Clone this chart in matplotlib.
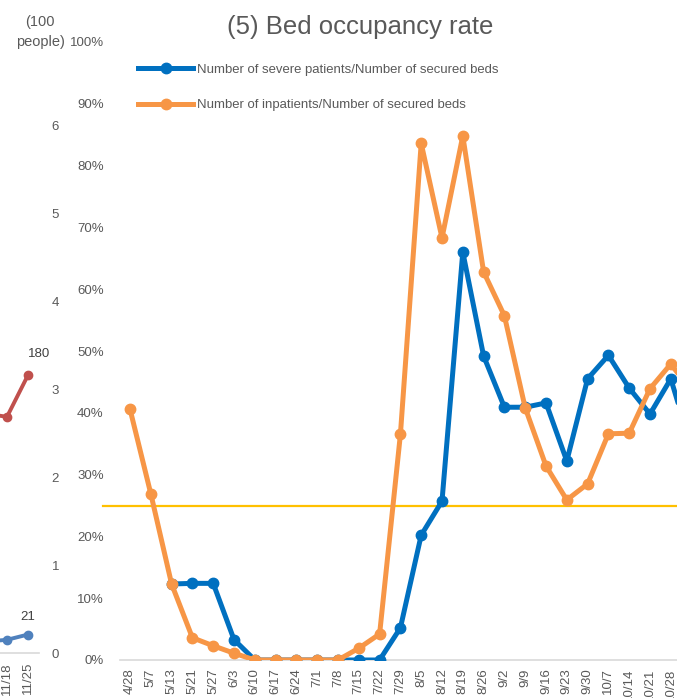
import numpy as np
import matplotlib
matplotlib.use("Agg")
import matplotlib.pyplot as plt
from matplotlib.ticker import PercentFormatter
from matplotlib.lines import Line2D

plt.rcParams["font.family"] = ["Liberation Sans", "DejaVu Sans"]

TXT = "#595959"
BLUE = "#0070C0"
ORANGE = "#F79646"
YELLOW = "#FFC000"
AXIS_GREY = "#D9D9D9"

# bed occupancy (%), weekly
dates = ["4/28", "5/7", "5/13", "5/21", "5/27", "6/3", "6/10", "6/17", "6/24",
         "7/1", "7/8", "7/15", "7/22", "7/29", "8/5", "8/12", "8/19", "8/26",
         "9/2", "9/9", "9/16", "9/23", "9/30", "10/7", "10/14", "10/21",
         "10/28", "11/4"]
severe_rate = [np.nan, np.nan, 12.3, 12.4, 12.4, 3.3, 0, 0, 0, 0, 0, 0, 0,
               5.2, 20.2, 25.7, 66.0, 49.2, 40.9, 40.9, 41.6, 32.2, 45.5,
               49.3, 44.0, 39.8, 45.5, 34.3]
inpatient_rate = [40.6, 26.9, 12.3, 3.6, 2.3, 1.1, 0, 0, 0, 0, 0, 1.9, 4.2,
                  36.5, 83.6, 68.3, 84.8, 62.8, 55.7, 40.8, 31.4, 25.9, 28.5,
                  36.6, 36.7, 43.9, 47.9, 43.5]
threshold = 25

# tail of the neighbouring panel (patient counts)
prev_dates = ["11/11", "11/18", "11/25"]
prev_severe = [13, 15, 21]        # people
prev_inpat = [155, 153, 180]      # people

W, H = 677, 698
fig = plt.figure(figsize=(W / 100, H / 100), dpi=100, facecolor="white")


def px(x0, y0, x1, y1):
    # pixel box (left, top, right, bottom) -> figure fraction rect
    return [x0 / W, 1 - y1 / H, (x1 - x0) / W, (y1 - y0) / H]


# ---- neighbouring panel (only its right edge shows) ----
axp = fig.add_axes(px(-200, 125, 38.5, 653))
axq = axp.twinx()
axp.set_xlim(2.5 - 238.5 / 21, 2.5)
axp.set_ylim(0, 6)
xp = np.arange(len(prev_dates))
axp.plot(xp, np.array(prev_severe) / 100, color="#4F81BD", lw=2.8,
         marker="o", ms=6, zorder=3)
axp.set_xticks(xp)
axp.set_xticklabels(prev_dates, rotation=90, fontsize=9.5, color=TXT)
axp.yaxis.tick_right()
axp.set_yticks(range(0, 7))
axp.tick_params(axis="both", length=0, colors=TXT, labelsize=9.5)
axp.tick_params(axis="y", pad=9.5, labelright=True, labelleft=False)
axp.tick_params(axis="x", pad=6.5)
for s in ["top", "left", "right"]:
    axp.spines[s].set_visible(False)
axp.spines["bottom"].set_color(AXIS_GREY)
axp.spines["bottom"].set_linewidth(1.2)
axp.annotate(str(prev_severe[-1]), (xp[-1], prev_severe[-1] / 100),
             xytext=(0, 8), textcoords="offset points", ha="center",
             va="bottom", fontsize=9.5, color="#404040")

axq.set_ylim(0, 342)
axq.plot(xp, prev_inpat, color="#C0504D", lw=2.8, marker="o", ms=6, zorder=3)
axq.set_yticks([])
for s in axq.spines.values():
    s.set_visible(False)
axq.annotate(str(prev_inpat[-1]), (xp[-1], prev_inpat[-1]),
             xytext=(8, 11), textcoords="offset points", ha="center",
             va="bottom", fontsize=9.5, color="#404040")
fig.text(40 / W, 1 - 32 / H, "(100\npeople)", ha="center", va="center",
         fontsize=10.5, color=TXT, linespacing=1.6)

# ---- bed occupancy panel ----
ax = fig.add_axes(px(119.6, 42, 119.6 + 28 * 20.8, 660))
x = np.arange(len(dates))
ax.plot(x, severe_rate, color=BLUE, lw=3.6, marker="o", ms=7.5,
        solid_capstyle="round", zorder=3)
ax.plot(x, inpatient_rate, color=ORANGE, lw=3.6, marker="o", ms=7.5,
        solid_capstyle="round", zorder=4)
ax.axhline(threshold, xmin=-0.0285, xmax=1, color=YELLOW, lw=1.6,
           clip_on=False, zorder=2)

ax.set_xlim(-0.5, len(dates) - 0.5)
ax.set_ylim(0, 100)
ax.set_yticks(np.arange(0, 101, 10))
ax.yaxis.set_major_formatter(PercentFormatter(100, decimals=0))
ax.set_xticks(x)
ax.set_xticklabels(dates, rotation=90, fontsize=9.5, color=TXT)
ax.tick_params(axis="both", length=0, colors=TXT, labelsize=9.5)
ax.tick_params(axis="y", pad=11.5)
ax.tick_params(axis="x", pad=6)
for s in ["top", "left", "right"]:
    ax.spines[s].set_visible(False)
ax.spines["bottom"].set_color(AXIS_GREY)
ax.spines["bottom"].set_linewidth(1.2)
ax.patch.set_alpha(0)

fig.text(360 / W, 1 - 27 / H, "(5) Bed occupancy rate", ha="center",
         va="center", fontsize=18.5, color=TXT)

handles = [
    Line2D([], [], color=BLUE, lw=3.6, marker="o", ms=7.5),
    Line2D([], [], color=ORANGE, lw=3.6, marker="o", ms=7.5),
]
labels = ["Number of severe patients/Number of secured beds",
          "Number of inpatients/Number of secured beds"]
leg = fig.legend(handles, labels, loc="upper left",
                 bbox_to_anchor=(138 / W, 1 - 63.5 / H),
                 bbox_transform=fig.transFigure, frameon=False,
                 fontsize=9.45, borderpad=0, borderaxespad=0,
                 handlelength=4.2, handletextpad=0.3, labelspacing=1.78,
                 numpoints=1)
for t in leg.get_texts():
    t.set_color(TXT)

fig.savefig("out.png", dpi=100, facecolor="white")
